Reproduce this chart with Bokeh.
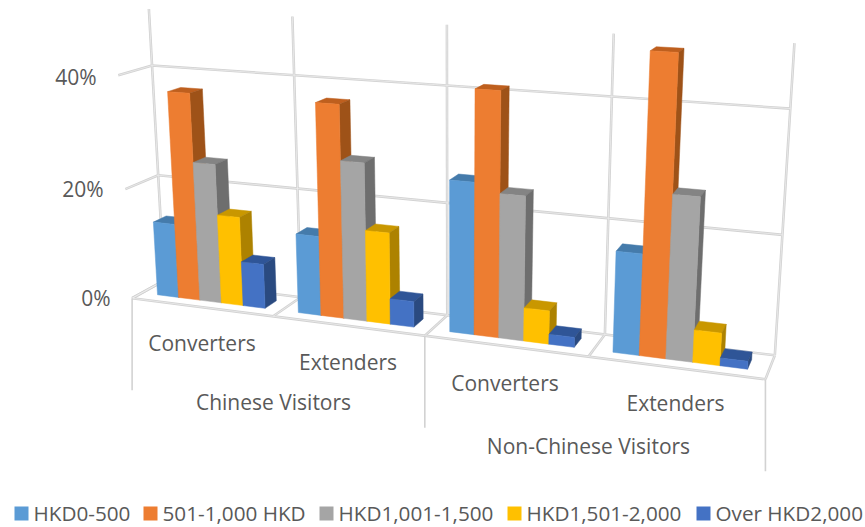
import numpy as np
from bokeh.core.properties import value
from bokeh.embed import file_html
from bokeh.plotting import figure
from bokeh.resources import INLINE

# Share of respondents (%) by spending band
series_names = ["HKD0-500", "501-1,000 HKD", "HKD1,001-1,500", "HKD1,501-2,000", "Over HKD2,000"]
hkd_0_500 = [13.5, 14.1, 26.0, 16.9]
hkd_501_1000 = [37.1, 37.1, 41.2, 48.8]
hkd_1001_1500 = [25.0, 27.6, 24.5, 26.9]
hkd_1501_2000 = [16.0, 16.0, 5.7, 5.4]
hkd_over_2000 = [8.0, 4.5, 1.7, 1.3]
series_values = [hkd_0_500, hkd_501_1000, hkd_1001_1500, hkd_1501_2000, hkd_over_2000]

tick_values = [0, 20, 40]
tick_labels = ["0%", "20%", "40%"]
inner_categories = ["Converters", "Extenders", "Converters", "Extenders"]
outer_categories = ["Chinese Visitors", "Non-Chinese Visitors"]

front_colors = ["#5B9BD5", "#ED7D31", "#A5A5A5", "#FFC000", "#4472C4"]
top_colors = ["#457BAB", "#BE5F1E", "#848484", "#C99700", "#2F5597"]
side_colors = ["#3F6F9C", "#9E5218", "#6E6E6E", "#AD8200", "#2A4A80"]

AXIS_MAX = 50
GRID = "#D2D2D2"
GRID_CORE = "#EFEFEF"
TEXT = "#595959"
FONT = "Open Sans"

# Camera calibration: (category position, depth, percent) against page position
calibration = [
    (0, 1, 50, 149, 8), (1, 1, 50, 292, 16), (2, 1, 50, 446, 24), (3, 1, 50, 613, 33), (4, 1, 50, 794, 43),
    (0, 1, 40, 152, 65), (4, 1, 40, 790, 108), (0, 1, 20, 158, 174), (4, 1, 20, 782, 234),
    (0, 1, 0, 164, 281), (1, 1, 0, 298, 297), (2, 1, 0, 447, 315), (3, 1, 0, 606, 335), (4, 1, 0, 773, 354),
    (0, 0, 0, 132, 297), (1, 0, 0, 273, 315), (2, 0, 0, 425, 335), (3, 0, 0, 588, 355), (4, 0, 0, 765, 380),
    (0, 0, 40, 117, 76), (0, 0, 20, 124, 189),
]


def solve_camera(points):
    rows, rhs = [], []
    for u, d, v, x, y in points:
        v = v / 50
        x, y = x / 500, y / 500
        rows.append([u, d, v, 1, 0, 0, 0, 0, -x * u, -x * d, -x * v])
        rhs.append(x)
        rows.append([0, 0, 0, 0, u, d, v, 1, -y * u, -y * d, -y * v])
        rhs.append(y)
    return np.linalg.lstsq(np.array(rows, float), np.array(rhs, float), rcond=None)[0]


camera = solve_camera(calibration)


def project(u, d, v):
    v = v / 50
    a = camera
    w = a[8] * u + a[9] * d + a[10] * v + 1
    return (500 * (a[0] * u + a[1] * d + a[2] * v + a[3]) / w,
            500 * (a[4] * u + a[5] * d + a[6] * v + a[7]) / w)


def polyline(*corners):
    pts = [project(*c) for c in corners]
    return [p[0] for p in pts], [p[1] for p in pts]


p = figure(width=865, height=527, x_range=(0, 865), y_range=(527, 0),
           output_backend="svg", toolbar_location=None, min_border=0,
           x_axis_location=None, y_axis_location=None)
p.grid.visible = False
p.outline_line_color = None

# Walls and floor
grid_x, grid_y = [], []
for u in range(5):
    xs, ys = polyline((u, 1, 0), (u, 1, AXIS_MAX))
    grid_x.append(xs); grid_y.append(ys)
    xs, ys = polyline((u, 0, 0), (u, 1, 0))
    grid_x.append(xs); grid_y.append(ys)
for v in tick_values:
    xs, ys = polyline((0, 0, v), (0, 1, v), (4, 1, v))
    grid_x.append(xs); grid_y.append(ys)
xs, ys = polyline((0, 0, 0), (4, 0, 0))
grid_x.append(xs); grid_y.append(ys)
p.multi_line(grid_x, grid_y, line_color=GRID, line_width=2.6)
p.multi_line(grid_x, grid_y, line_color=GRID_CORE, line_width=0.7)

# Category dividers beneath the floor
for u, drop in [(0, 92), (2, 92), (4, 92)]:
    x0, y0 = project(u, 0, 0)
    p.line([x0, x0], [y0, y0 + drop], line_color=GRID, line_width=1.6)

# Bars, painted left to right so nearer faces cover their neighbours
GAP = 0.115
D0, D1 = 0.30, 0.70
bar_w = (1 - 2 * GAP) / len(series_values)
for c in range(4):
    for s, values in enumerate(series_values):
        h = values[c]
        u0 = c + GAP + s * bar_w
        u1 = u0 + bar_w
        faces = [
            (top_colors[s], [(u0, D0, h), (u1, D0, h), (u1, D1, h), (u0, D1, h)]),
            (side_colors[s], [(u1, D0, 0), (u1, D1, 0), (u1, D1, h), (u1, D0, h)]),
            (front_colors[s], [(u0, D0, 0), (u1, D0, 0), (u1, D0, h), (u0, D0, h)]),
        ]
        for colour, corners in faces:
            xs, ys = polyline(*corners)
            p.patch(xs, ys, fill_color=colour, line_color=colour, line_width=0.5)

# Percent tick labels
p.text([110, 103, 96], [297, 188, 76], text=tick_labels, text_font=value(FONT),
       text_font_size="21px", text_color=TEXT, text_align="right", text_baseline="middle")

# Two-level category labels
p.text([201.5, 347.5, 504.5, 675], [342, 361, 382, 402], text=inner_categories, text_font=value(FONT),
       text_font_size="21px", text_color=TEXT, text_align="center", text_baseline="middle")
p.text([273, 588], [401, 445], text=outer_categories, text_font=value(FONT),
       text_font_size="21px", text_color=TEXT, text_align="center", text_baseline="middle")

# Legend
legend_left = [14, 143, 319, 507, 696]
p.quad(left=legend_left, right=[x + 14 for x in legend_left], top=[506] * 5, bottom=[520] * 5,
       fill_color=front_colors, line_color=None)
p.text([x + 19 for x in legend_left], [512] * 5, text=series_names, text_font=value(FONT),
       text_font_size="20.7px", text_color=TEXT, text_align="left", text_baseline="middle")

open("out.html", "w").write(file_html(p, INLINE))
